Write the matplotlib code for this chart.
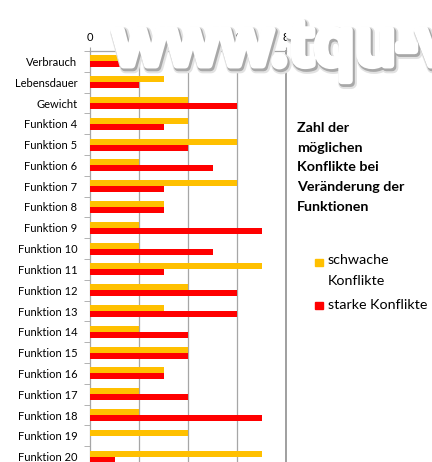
import matplotlib
matplotlib.use('Agg')
import matplotlib.pyplot as plt
import matplotlib.patheffects as pe
import numpy as np

# Data
categories = ['Verbrauch', 'Lebensdauer', 'Gewicht'] + ['Funktion %d' % i for i in range(4, 21)]
schwach = [2, 3, 4, 4, 6, 2, 6, 3, 2, 2, 7, 4, 3, 2, 4, 3, 2, 2, 4, 7]
stark = [2, 2, 6, 3, 4, 5, 3, 3, 7, 5, 3, 6, 6, 4, 4, 3, 4, 7, 0, 1]
x_ticks = [0, 2, 4, 6, 8]

col_schwach = '#FFC000'
col_stark = '#FF0000'
grid_col = '#A6A6A6'

plt.rcParams['font.family'] = ['Lato', 'DejaVu Sans']

W, H = 432, 462
fig = plt.figure(figsize=(W / 100, H / 100), dpi=100)

# axes placed in pixel terms (bottom runs past the figure edge like the original crop)
ax = fig.add_axes([90 / W, (H - 467) / H, (286 - 90) / W, (467 - 51) / H])

y = np.arange(len(categories))
h = 0.29
ax.barh(y - h / 2, schwach, height=h, color=col_schwach, zorder=3)
ax.barh(y + h / 2, stark, height=h, color=col_stark, zorder=3)

ax.set_xlim(0, 8)
ax.set_ylim(len(categories) - 0.5, -0.5)
ax.xaxis.tick_top()
ax.set_xticks(x_ticks)
ax.set_xticklabels([str(t) for t in x_ticks], fontsize=8)
ax.tick_params(axis='x', length=3, color=grid_col, pad=3)
for t in x_ticks[1:]:
    ax.axvline(t, color=grid_col, lw=0.9, zorder=1)

ax.set_yticks(y)
ax.set_yticklabels(categories, fontsize=8)
ax.set_yticks(np.arange(len(categories)) - 0.5, minor=True)
ax.tick_params(axis='y', which='major', length=0, pad=9)
ax.tick_params(axis='y', which='minor', length=4, color=grid_col)

for s in ['top', 'left']:
    ax.spines[s].set_color(grid_col)
    ax.spines[s].set_linewidth(0.9)
ax.spines['right'].set_color('#999999')
ax.spines['right'].set_linewidth(1.3)
ax.spines['bottom'].set_visible(False)

# legend area on the right
title_lines = ['Zahl der', 'möglichen', 'Konflikte bei', 'Veränderung der', 'Funktionen']
for i, line in enumerate(title_lines):
    fig.text(297 / W, 1 - (128 + i * 19.7) / H, line, fontsize=10.3, fontweight='bold',
             va='center', ha='left')

fig.patches.append(plt.Rectangle((315 / W, 1 - 266 / H), 7.5 / W, 7.5 / H,
                                 transform=fig.transFigure, color=col_schwach))
fig.text(328 / W, 1 - 260 / H, 'schwache', fontsize=10.3, va='center')
fig.text(328 / W, 1 - 281 / H, 'Konflikte', fontsize=10.3, va='center')
fig.patches.append(plt.Rectangle((315 / W, 1 - 309 / H), 7.5 / W, 7.5 / H,
                                 transform=fig.transFigure, color=col_stark))
fig.text(328 / W, 1 - 305 / H, 'starke Konflikte', fontsize=10.3, va='center')

# watermark: white letters with a soft grey shadow
fig.text(113 / W, 1 - 65 / H, 'www.tqu-v', fontsize=47, family='Open Sans',
         fontweight='semibold', color='white', ha='left', va='baseline', zorder=10,
         path_effects=[pe.Stroke(linewidth=8, foreground='#e2e2e2', offset=(1.5, -2)),
                       pe.Stroke(linewidth=6, foreground='#a8a8a8', offset=(1, -1.5)),
                       pe.Stroke(linewidth=5, foreground='white'),
                       pe.Normal()])

fig.savefig('out.png', dpi=100)
